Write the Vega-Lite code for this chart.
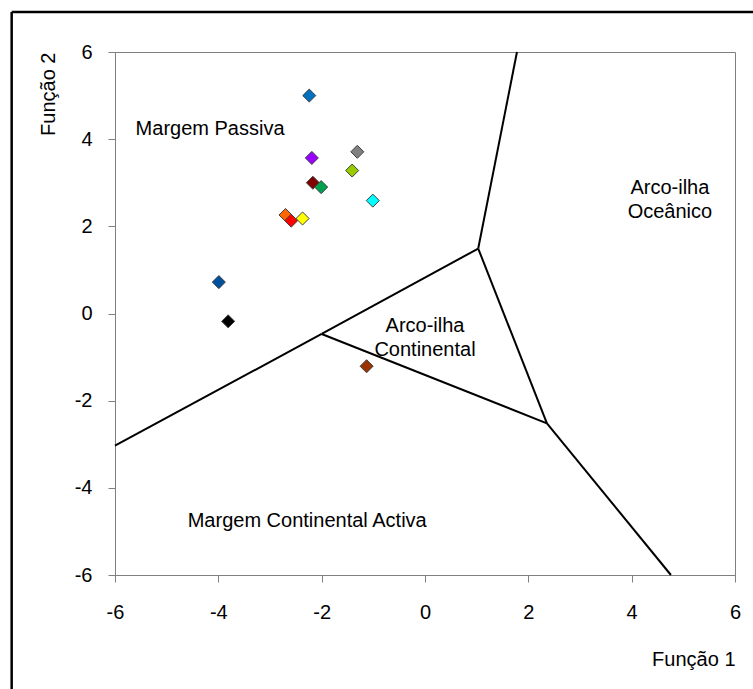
{
  "$schema": "https://vega.github.io/schema/vega-lite/v6.json",
  "width": 620,
  "height": 523,
  "autosize": "none",
  "padding": {"left": 115, "top": 52, "right": 18, "bottom": 114},
  "background": "white",
  "config": {
    "view": {"stroke": "#808080", "strokeWidth": 1},
    "font": "Liberation Sans"
  },
  "datasets": {
    "points": [
      {"sample": "A1", "f1": -2.24, "f2": 5.0, "color": "#0070C0"},
      {"sample": "A2", "f1": -2.19, "f2": 3.57, "color": "#9900FF"},
      {"sample": "A3", "f1": -1.31, "f2": 3.71, "color": "#808080"},
      {"sample": "A4", "f1": -1.41, "f2": 3.28, "color": "#99CC00"},
      {"sample": "A5", "f1": -2.17, "f2": 3.0, "color": "#800000"},
      {"sample": "A6", "f1": -2.01, "f2": 2.9, "color": "#00A050"},
      {"sample": "A7", "f1": -1.01, "f2": 2.59, "color": "#00FFFF"},
      {"sample": "A8", "f1": -2.7, "f2": 2.26, "color": "#FF6600"},
      {"sample": "A9", "f1": -2.59, "f2": 2.13, "color": "#FF0000"},
      {"sample": "A10", "f1": -2.37, "f2": 2.18, "color": "#FFFF00"},
      {"sample": "A11", "f1": -3.99, "f2": 0.72, "color": "#0050A0"},
      {"sample": "A12", "f1": -3.81, "f2": -0.18, "color": "#000000"},
      {"sample": "A13", "f1": -1.13, "f2": -1.21, "color": "#993300"}
    ],
    "bounds": [
      {"seg": 1, "x1": -6, "y1": -3.03, "x2": -2.0, "y2": -0.47},
      {"seg": 2, "x1": -2.0, "y1": -0.47, "x2": 1.03, "y2": 1.49},
      {"seg": 3, "x1": 1.03, "y1": 1.49, "x2": 1.78, "y2": 6},
      {"seg": 4, "x1": 1.03, "y1": 1.49, "x2": 2.36, "y2": -2.52},
      {"seg": 5, "x1": -2.0, "y1": -0.47, "x2": 2.36, "y2": -2.52},
      {"seg": 6, "x1": 2.36, "y1": -2.52, "x2": 4.76, "y2": -6}
    ],
    "labels": [
      {"text": ["Margem Passiva"], "x": -4.16, "y": 4.23},
      {"text": ["Arco-ilha", "Oceânico"], "x": 4.74, "y": 2.88},
      {"text": ["Arco-ilha", "Continental"], "x": 0.0, "y": -0.29},
      {"text": ["Margem Continental Activa"], "x": -2.28, "y": -4.76}
    ],
    "frame": [
      {"x": -8, "x2": 10, "y": 6.92, "y2": -10}
    ]
  },
  "layer": [
    {
      "data": {"name": "bounds"},
      "mark": {"type": "rule", "color": "#000000", "strokeWidth": 2},
      "encoding": {
        "x": {
          "field": "x1", "type": "quantitative",
          "scale": {"domain": [-6, 6], "nice": false, "zero": false},
          "axis": {
            "values": [-6, -4, -2, 0, 2, 4, 6],
            "labelExpr": "toString(datum.value)",
            "grid": false,
            "domainColor": "#808080",
            "tickColor": "#808080",
            "tickSize": 7,
            "labelFontSize": 20,
            "labelColor": "#000000",
            "labelPadding": 20,
            "labelFlush": false,
            "title": "Função 1",
            "titleFontSize": 20,
            "titleFontWeight": "normal",
            "titleColor": "#000000",
            "titleX": 620,
            "titleY": 84,
            "titleAlign": "right",
            "titleBaseline": "middle"
          }
        },
        "x2": {"field": "x2"},
        "y": {
          "field": "y1", "type": "quantitative",
          "scale": {"domain": [-6, 6], "nice": false, "zero": false},
          "axis": {
            "values": [-6, -4, -2, 0, 2, 4, 6],
            "labelExpr": "toString(datum.value)",
            "grid": false,
            "domainColor": "#808080",
            "tickColor": "#808080",
            "tickSize": 7,
            "labelFontSize": 20,
            "labelColor": "#000000",
            "labelPadding": 16,
            "labelFlush": false,
            "title": "Função 2",
            "titleFontSize": 20,
            "titleFontWeight": "normal",
            "titleColor": "#000000",
            "titleAngle": -90,
            "titleX": -67,
            "titleY": 0,
            "titleAlign": "right",
            "titleBaseline": "middle"
          }
        },
        "y2": {"field": "y2"}
      }
    },
    {
      "data": {"name": "frame"},
      "mark": {"type": "rule", "color": "#000000", "strokeWidth": 2.5, "clip": false},
      "encoding": {
        "x": {"field": "x", "type": "quantitative"},
        "y": {"field": "y", "type": "quantitative"},
        "y2": {"field": "y2"}
      }
    },
    {
      "data": {"name": "frame"},
      "mark": {"type": "rule", "color": "#000000", "strokeWidth": 2.5, "clip": false},
      "encoding": {
        "x": {"field": "x", "type": "quantitative"},
        "x2": {"field": "x2"},
        "y": {"field": "y", "type": "quantitative"}
      }
    },
    {
      "data": {"name": "points"},
      "mark": {"type": "point", "shape": "diamond", "filled": true, "size": 170, "stroke": "#404040", "strokeWidth": 1, "opacity": 1},
      "encoding": {
        "x": {"field": "f1", "type": "quantitative"},
        "y": {"field": "f2", "type": "quantitative"},
        "fill": {"field": "color", "type": "nominal", "scale": null, "legend": null}
      }
    },
    {
      "data": {"name": "labels"},
      "mark": {"type": "text", "fontSize": 20, "color": "#000000", "align": "center", "baseline": "middle", "lineHeight": 24},
      "encoding": {
        "x": {"field": "x", "type": "quantitative"},
        "y": {"field": "y", "type": "quantitative"},
        "text": {"field": "text"}
      }
    }
  ]
}
